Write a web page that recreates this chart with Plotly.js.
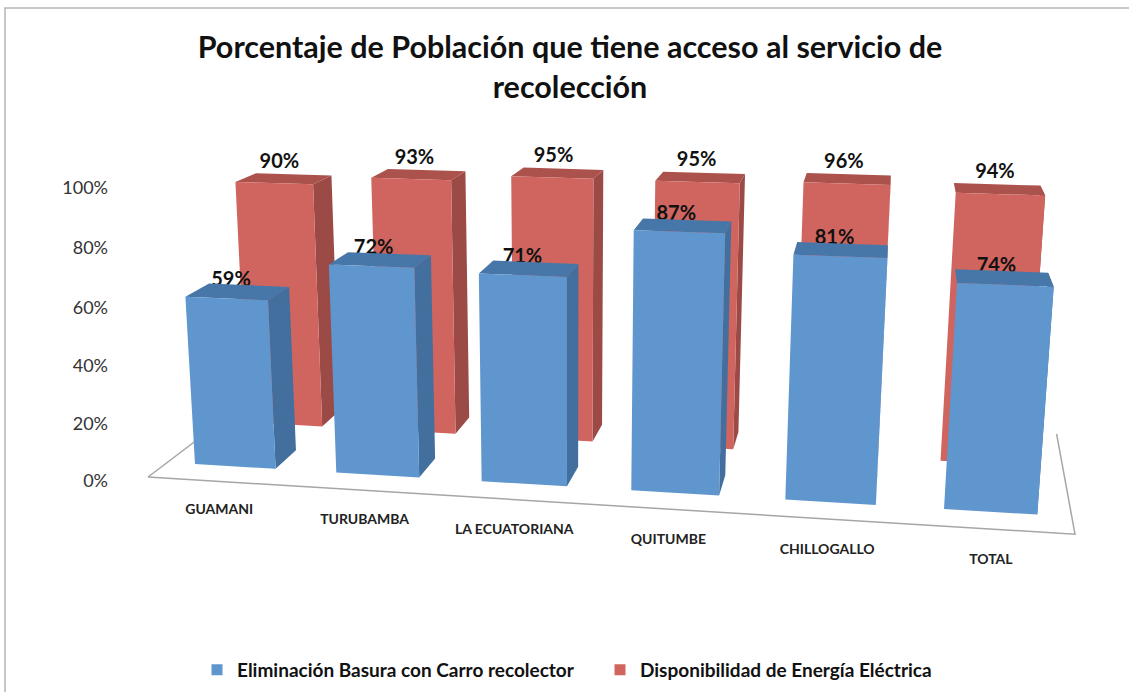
<!DOCTYPE html>
<html><head><meta charset="utf-8">
<script src="https://cdn.plot.ly/plotly-3.0.1.min.js"></script>
<style>html,body{margin:0;padding:0;background:#fff}#c{width:1129px;height:692px}</style>
</head><body><div id="c"></div>
<script>
// ---- data ----
var categories = ['GUAMANI','TURUBAMBA','LA ECUATORIANA','QUITUMBE','CHILLOGALLO','TOTAL'];
var basuraValues = [59,72,71,87,81,74];
var energiaValues = [90,93,95,95,96,94];
var yTicks = [0,20,40,60,80,100];
var seriesNames = ['Eliminación Basura con Carro recolector','Disponibilidad de Energía Eléctrica'];
var titleText = 'Porcentaje de Población que tiene acceso al servicio de<br>recolección';

// ---- perspective scene: category position, depth, value -> plot coordinates ----
var FONT = 'Lato, "Open Sans", sans-serif';
function project(cat, depth, value){
  var a = cat*0.014, c = value*0.000423;
  var w = 1 - a + depth - c;
  return [(195 + a*9756 + depth*900 - c*570)/w,
          (464 + a*134  - depth*100 - c*7000)/w];
}
var BAR = 0.574, DEEP = 0.0334, RED_DEPTH = 0.08;

function facePath(corners, xs, ys){
  corners.forEach(function(k){ var p = project(k[0],k[1],k[2]); xs.push(p[0]); ys.push(p[1]); });
  var p0 = project(corners[0][0],corners[0][1],corners[0][2]);
  xs.push(p0[0], null); ys.push(p0[1], null);
}
function barTraces(values, depth, colFront, colSide, colTop){
  var f={x:[],y:[]}, s={x:[],y:[]}, t={x:[],y:[]};
  values.forEach(function(v,i){
    var L=i, R=L+BAR, F=depth, B=depth+DEEP;
    facePath([[R,F,0],[R,B,0],[R,B,v],[R,F,v]], s.x, s.y);
    facePath([[L,F,v],[R,F,v],[R,B,v],[L,B,v]], t.x, t.y);
    facePath([[L,F,0],[R,F,0],[R,F,v],[L,F,v]], f.x, f.y);
  });
  return [[s,colSide],[t,colTop],[f,colFront]].map(function(o){
    return {type:'scatter',mode:'lines',x:o[0].x,y:o[0].y,fill:'toself',fillcolor:o[1],
            line:{width:0,color:o[1]},hoverinfo:'skip',showlegend:false};
  });
}
function valueLabels(values, depth, lift, nudge){
  var xs=[],ys=[],tx=[];
  values.forEach(function(v,i){
    var p = project(i+BAR/2+nudge, depth+0.0167, v+lift);
    xs.push(p[0]); ys.push(p[1]); tx.push(v+'%');
  });
  return {type:'scatter',mode:'text',x:xs,y:ys,text:tx,textposition:'middle center',
          textfont:{family:FONT,size:20,color:'#111',weight:700},hoverinfo:'skip',showlegend:false};
}
function line(xs,ys,col,w){
  return {type:'scatter',mode:'lines',x:xs,y:ys,line:{color:col,width:w},hoverinfo:'skip',showlegend:false};
}

var FLOOR_FRONT=-0.0255, FLOOR_BACK=0.1432;
var floorPts=[project(-0.19,FLOOR_BACK,0),project(-0.2,FLOOR_FRONT,0),project(5.774,FLOOR_FRONT,0),project(5.84,FLOOR_BACK,0)];

var traces=[];
traces.push(line([5,5,1129],[692,8,8],'#b5b5b5',1.5));
traces.push(line(floorPts.map(function(p){return p[0]}),floorPts.map(function(p){return p[1]}),'#a6a6a6',1.5));
traces = traces.concat(barTraces(energiaValues,RED_DEPTH,'#D0655F','#9B4A46','#AC524D'));
traces.push(valueLabels(energiaValues,RED_DEPTH,5.5,-0.03));
traces.push(valueLabels(basuraValues,0,3.5,-0.045));
traces = traces.concat(barTraces(basuraValues,0,'#5F96CE','#426F9E','#4777A9'));

// value axis labels, along the left wall of the scene
var tickPts = yTicks.map(function(v){return project(-0.2,FLOOR_FRONT+0.008,v)});
traces.push({type:'scatter',mode:'text',x:tickPts.map(function(){return 108}),
  y:tickPts.map(function(p){return p[1]+9.7}),text:yTicks.map(function(v){return v+'%'}),
  textposition:'middle left',textfont:{family:FONT,size:18,color:'#333'},hoverinfo:'skip',showlegend:false});

// category labels, hanging under the front edge of the floor
var catPts = categories.map(function(c,i){return project(i+BAR/2,FLOOR_FRONT,-10.5)});
traces.push({type:'scatter',mode:'text',x:catPts.map(function(p){return p[0]}),y:catPts.map(function(p){return p[1]}),
  text:categories,textposition:'middle center',textfont:{family:FONT,size:14,color:'#222',weight:700},
  hoverinfo:'skip',showlegend:false});

// legend entries
traces.push({type:'scatter',mode:'markers',x:[null],y:[null],name:seriesNames[0],marker:{symbol:'square',size:11,color:'#5F96CE'}});
traces.push({type:'scatter',mode:'markers',x:[null],y:[null],name:seriesNames[1],marker:{symbol:'square',size:11,color:'#D0655F'}});

var layout={
  width:1129,height:692,margin:{l:0,r:0,t:0,b:0},paper_bgcolor:'#fff',plot_bgcolor:'#fff',
  title:{text:titleText,font:{family:FONT,size:30.5,color:'#111',weight:700},x:570/1129,xanchor:'center',y:0.916,yanchor:'middle'},
  xaxis:{range:[0,1129],visible:false,fixedrange:true},
  yaxis:{range:[692,0],visible:false,fixedrange:true},
  showlegend:true,
  legend:{orientation:'h',x:197/1129,xanchor:'left',y:0.032,yanchor:'middle',
          font:{family:FONT,size:19,color:'#111',weight:700},entrywidth:358,entrywidthmode:'pixels',
          bgcolor:'rgba(0,0,0,0)'}
};
Plotly.newPlot('c',traces,layout,{displayModeBar:false,staticPlot:true});
</script></body></html>
